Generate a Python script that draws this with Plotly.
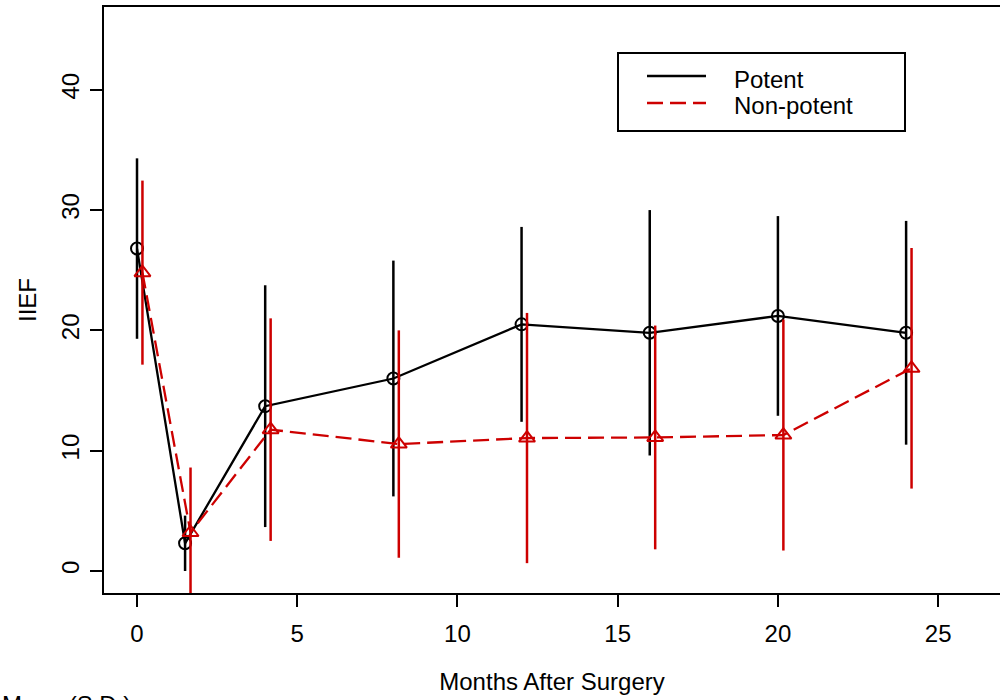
import plotly.graph_objects as go

# ---- data ----
months = [0, 1.5, 4, 8, 12, 16, 20, 24]
nonpotent_offset = 0.17  # horizontal jitter used in the original plot

potent_mean = [26.8, 2.3, 13.7, 16.0, 20.5, 19.8, 21.2, 19.8]
potent_sd = [7.5, 2.3, 10.05, 9.8, 8.1, 10.2, 8.3, 9.3]

nonpotent_mean = [24.8, 3.2, 11.75, 10.55, 11.05, 11.1, 11.3, 16.85]
nonpotent_sd = [7.65, 5.4, 9.25, 9.45, 10.4, 9.3, 9.6, 10.0]

x_ticks = [0, 5, 10, 15, 20, 25]
y_ticks = [0, 10, 20, 30, 40]

series_names = ["Potent", "Non-potent"]

BLACK = "#000000"
RED = "#CD0000"
DASH = "16px,7px"
FONT = "Liberation Sans, Arial, sans-serif"

fig = go.Figure()

fig.add_trace(go.Scatter(
    x=months, y=potent_mean, mode="lines+markers", name=series_names[0],
    showlegend=False,
    line=dict(color=BLACK, width=2.3),
    marker=dict(symbol="circle-open", size=12, color=BLACK, line=dict(width=2, color=BLACK)),
    error_y=dict(type="data", array=potent_sd, visible=True, width=0, thickness=2.5, color=BLACK),
))

fig.add_trace(go.Scatter(
    x=[m + nonpotent_offset for m in months], y=nonpotent_mean, mode="lines+markers",
    name=series_names[1], showlegend=False,
    line=dict(color=RED, width=2.3, dash=DASH),
    marker=dict(symbol="triangle-up-open", size=14, color=RED, line=dict(width=2, color=RED)),
    error_y=dict(type="data", array=nonpotent_sd, visible=True, width=0, thickness=2.5, color=RED),
))

W, H = 1000, 700
ml, mr, mt, mb = 104, 0, 7, 107
pw = W - ml - mr
ph = H - mt - mb


def px(xp):
    return (xp - ml) / pw


def py(yp):
    return (H - mb - yp) / ph


# legend drawn as in R: a box with line samples and labels
shapes = [
    dict(type="rect", xref="paper", yref="paper", x0=px(618), x1=px(905), y0=py(131), y1=py(53),
         line=dict(color="black", width=2), fillcolor="white", layer="above"),
    dict(type="line", xref="paper", yref="paper", x0=px(647), x1=px(706), y0=py(76), y1=py(76),
         line=dict(color=BLACK, width=2.3), layer="above"),
    dict(type="line", xref="paper", yref="paper", x0=px(647), x1=px(706), y0=py(103), y1=py(103),
         line=dict(color=RED, width=2.3, dash=DASH), layer="above"),
]

annotations = [
    dict(text=series_names[0], xref="paper", yref="paper", x=px(732), y=py(80),
         xanchor="left", yanchor="middle", showarrow=False, font=dict(size=24)),
    dict(text=series_names[1], xref="paper", yref="paper", x=px(732), y=py(105),
         xanchor="left", yanchor="middle", showarrow=False, font=dict(size=24)),
    dict(text="Mean (S.D.)", xref="paper", yref="paper",
         x=px(0), y=py(689), xanchor="left", yanchor="top",
         showarrow=False, font=dict(size=24)),
]

fig.update_layout(
    width=W, height=H,
    margin=dict(l=ml, r=mr, t=mt, b=mb, pad=0),
    paper_bgcolor="white", plot_bgcolor="white",
    font=dict(family=FONT, size=24, color="black"),
    showlegend=False,
    xaxis=dict(
        range=[-1.03, 26.93], tickvals=x_ticks, ticks="outside", ticklen=12,
        tickwidth=2, tickcolor="black", showline=True, linecolor="black", linewidth=2,
        mirror=True, showgrid=False, zeroline=False,
        title=dict(text="Months After Surgery", standoff=27, font=dict(size=24)),
        ticklabelstandoff=6,
    ),
    yaxis=dict(
        range=[-1.83, 46.88], tickvals=y_ticks, ticks="outside", ticklen=12,
        tickwidth=2, tickcolor="black", showline=True, linecolor="black", linewidth=2,
        showgrid=False, zeroline=False, tickangle=-90,
        title=dict(text="IIEF", standoff=14, font=dict(size=24)),
        ticklabelstandoff=1,
    ),
    shapes=shapes,
    annotations=annotations,
)

fig.write_html("out.html", config={"displayModeBar": False},
               post_script="document.body.style.margin='0px';")
